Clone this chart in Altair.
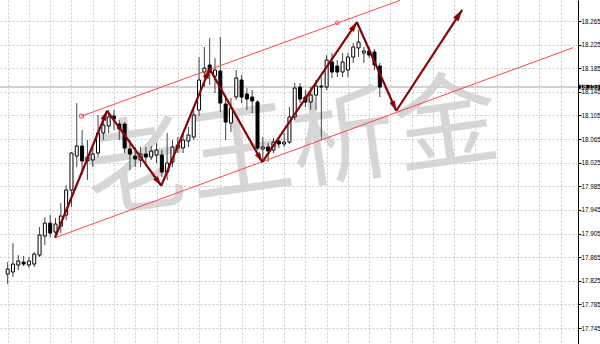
import math
import altair as alt
import pandas as pd

# ---- OHLC candles (H4 bars), oldest first ----
opens = [17.8365, 17.8399, 17.8517, 17.8568, 17.8517, 17.8534, 17.8686, 17.9008, 17.9228, 17.9076,
         17.9178, 17.9364, 17.9788, 18.0363, 18.0533, 18.0279, 18.0296, 18.0414, 18.0753, 18.0872,
         18.1041, 18.0905, 18.0905, 18.0482, 18.0363, 18.0296, 18.0397, 18.0346, 18.0380, 18.0380,
         18.0092, 18.0262, 18.0499, 18.0499, 18.0617, 18.0685, 18.1142, 18.1786, 18.1905, 18.1718,
         18.1803, 18.1244, 18.0922, 18.1363, 18.1651, 18.1414, 18.1363, 18.1278, 18.0482, 18.0516,
         18.0465, 18.0617, 18.0567, 18.0600, 18.1024, 18.1532, 18.1363, 18.1278, 18.1397, 18.1549,
         18.1532, 18.1956, 18.1888, 18.1786, 18.1820, 18.2040, 18.2193, 18.2108, 18.2142, 18.2125,
         18.1888]
highs = [17.8568, 17.8890, 17.8686, 17.8670, 17.8653, 17.8737, 17.9161, 17.9330, 17.9364, 17.9313,
         17.9567, 17.9872, 18.0431, 18.1261, 18.0804, 18.0634, 18.0516, 18.1058, 18.1058, 18.1142,
         18.1142, 18.0973, 18.0939, 18.0634, 18.0516, 18.0516, 18.0516, 18.0533, 18.0584, 18.0465,
         18.0753, 18.0634, 18.0685, 18.0753, 18.0855, 18.1193, 18.2040, 18.2210, 18.2362, 18.2023,
         18.2379, 18.1363, 18.1346, 18.1820, 18.1735, 18.1515, 18.1481, 18.1312, 18.0685, 18.0584,
         18.0668, 18.0685, 18.0753, 18.1193, 18.1600, 18.1600, 18.1481, 18.1532, 18.1651, 18.1701,
         18.2074, 18.2108, 18.1989, 18.2108, 18.2108, 18.2277, 18.2498, 18.2210, 18.2210, 18.2176,
         18.1939]
lows = [17.8195, 17.8314, 17.8432, 17.8500, 17.8466, 17.8483, 17.8653, 17.8856, 17.8991, 17.8991,
        17.9059, 17.9279, 17.9500, 18.0177, 18.0042, 17.9957, 18.0177, 18.0346, 18.0634, 18.0753,
        18.0804, 18.0634, 18.0414, 18.0126, 18.0177, 18.0177, 18.0245, 18.0296, 18.0245, 18.0008,
        17.9957, 18.0177, 18.0414, 18.0414, 18.0516, 18.0634, 18.1041, 18.1532, 18.1566, 18.1431,
        18.1109, 18.0634, 18.0770, 18.1312, 18.1261, 18.1142, 18.1092, 18.0465, 18.0296, 18.0262,
        18.0414, 18.0499, 18.0516, 18.0567, 18.0973, 18.1261, 18.1193, 18.1142, 18.1142, 18.0634,
        18.1481, 18.1685, 18.1701, 18.1701, 18.1701, 18.1939, 18.2040, 18.1939, 18.2023, 18.1820,
        18.1363]
closes = [17.8449, 17.8534, 17.8585, 17.8534, 17.8585, 17.8703, 17.9025, 17.9228, 17.9059, 17.9212,
          17.9347, 17.9788, 18.0414, 18.0533, 18.0279, 18.0346, 18.0397, 18.0753, 18.0888, 18.1024,
          18.0990, 18.0821, 18.0499, 18.0397, 18.0313, 18.0397, 18.0346, 18.0448, 18.0465, 18.0092,
          18.0245, 18.0516, 18.0550, 18.0634, 18.0719, 18.1058, 18.1651, 18.1854, 18.1786, 18.1820,
          18.1261, 18.0939, 18.1176, 18.1685, 18.1363, 18.1329, 18.1295, 18.0499, 18.0516, 18.0448,
          18.0600, 18.0567, 18.0600, 18.1024, 18.1515, 18.1329, 18.1278, 18.1397, 18.1549, 18.1532,
          18.1989, 18.1786, 18.1786, 18.1956, 18.2040, 18.2210, 18.2294, 18.2142, 18.2074, 18.1905,
          18.1532]

# price scale labels on the right
price_ticks = [17.745, 17.785, 17.825, 17.865, 17.905, 17.945, 17.985, 18.025,
               18.065, 18.105, 18.145, 18.185, 18.225, 18.265]
# vertical grid every 4 bars
grid_bars = list(range(0, 108, 4))

# wave count drawn over the chart: (bar index, price)
wave_bar = [8.9, 18.7, 28.9, 38.0, 47.9, 65.7, 73.1, 85.5]
wave_price = [17.898, 18.113, 17.986, 18.184, 18.026, 18.263, 18.113, 18.284]

# rising channel
upper_bar = [13.9, 73.8]
upper_price = [18.104, 18.300]
lower_bar = [8.9, 106.4]
lower_price = [17.898, 18.220]
upper_anchor_bar = [62.0]
upper_anchor_price = [18.262]

watermark = "老王析金"
watermark_bar = 53.5
watermark_price = 18.046

# ---- layout ----
W, H = 578, 344
XDOM = [-0.5, 106.34]
YDOM = [17.718, 18.3006]
sx = W / (XDOM[1] - XDOM[0])
sy = H / (YDOM[1] - YDOM[0])

n = len(opens)
candles = pd.DataFrame({
    "bar": list(range(n)), "open": opens, "high": highs, "low": lows, "close": closes,
})
candles["top"] = candles[["open", "close"]].max(axis=1)
candles["bottom"] = candles[["open", "close"]].min(axis=1)
candles["dir"] = ["up" if c >= o else "down" for o, c in zip(opens, closes)]

xscale = alt.Scale(domain=XDOM, nice=False, zero=False)
yscale = alt.Scale(domain=YDOM, nice=False, zero=False)
xaxis = alt.Axis(values=grid_bars, labels=False, ticks=False, domain=False, title=None,
                 grid=True, gridColor="#c8c8c8", gridDash=[2, 2], gridWidth=1)
yaxis = alt.Axis(orient="right", values=price_ticks, format=".3f", title=None,
                 grid=True, gridColor="#c8c8c8", gridDash=[2, 2], gridWidth=1,
                 domain=True, domainColor="#000000", domainWidth=1,
                 ticks=True, tickColor="#000000", tickSize=3,
                 labelFont="Liberation Sans", labelFontSize=6.3, labelColor="#000000",
                 labelPadding=0)


def X(field):
    return alt.X(field, type="quantitative", scale=xscale, axis=xaxis)


def Y(field):
    return alt.Y(field, type="quantitative", scale=yscale, axis=yaxis)


base = alt.Chart(candles)

wicks = base.mark_rule(color="#444444", strokeWidth=1).encode(
    x=X("bar"), y=Y("low"), y2="high")

bodies = base.mark_bar(size=3, stroke="#000000", strokeWidth=1).encode(
    x=X("bar"), y=Y("bottom"), y2="top",
    fill=alt.Fill("dir:N", scale=alt.Scale(domain=["up", "down"], range=["#ffffff", "#000000"]),
                  legend=None))

# current price line and its marker on the price scale
last = pd.DataFrame({"price": [closes[-1]], "label": [f"{closes[-1]:.3f}"]})
price_line = alt.Chart(last).mark_rule(color="#d2d2d2", strokeWidth=2).encode(y=Y("price"))
price_box = alt.Chart(last).mark_point(
    shape="M-2.45,-0.5H2.45V0.5H-2.45Z", size=81, filled=True, color="#000000", opacity=1
).encode(x=alt.value(589), y=Y("price"))
price_text = alt.Chart(last).mark_text(
    font="Liberation Sans", fontSize=6.3, color="#ffffff", align="center", baseline="middle"
).encode(x=alt.value(589), y=Y("price"), text="label:N")

# watermark
wm = pd.DataFrame({"bar": [watermark_bar], "price": [watermark_price], "t": [watermark]})
wm_text = alt.Chart(wm).mark_text(
    font="Noto Sans CJK SC", fontSize=104, color="#d0d0d0", opacity=0.85,
    angle=352, align="center", baseline="middle"
).encode(x=X("bar"), y=Y("price"), text="t:N")

# channel lines
chan = pd.DataFrame({
    "x": [upper_bar[0], lower_bar[0]], "y": [upper_price[0], lower_price[0]],
    "x2": [upper_bar[1], lower_bar[1]], "y2": [upper_price[1], lower_price[1]],
})
chan_lines = alt.Chart(chan).mark_rule(color="#ff4545", strokeWidth=1, clip=True).encode(
    x=X("x"), y=Y("y"), x2="x2", y2="y2")
start_mark = alt.Chart(pd.DataFrame({"x": [upper_bar[0]], "y": [upper_price[0]]})).mark_point(
    shape="square", size=14, filled=False, color="#ff4545", strokeWidth=1, opacity=1
).encode(x=X("x"), y=Y("y"))
anchor_mark = alt.Chart(pd.DataFrame({"x": upper_anchor_bar, "y": upper_anchor_price})).mark_point(
    shape="circle", size=14, filled=False, color="#ff4545", strokeWidth=1, opacity=1
).encode(x=X("x"), y=Y("y"))

# wave arrows
seg = pd.DataFrame({
    "x": wave_bar[:-1], "y": wave_price[:-1], "x2": wave_bar[1:], "y2": wave_price[1:],
})
seg["k"] = range(len(seg))
seg["angle"] = [
    math.degrees(math.atan2((b - a) * sx, (q - p) * sy)) % 360
    for a, b, p, q in zip(seg["x"], seg["x2"], seg["y"], seg["y2"])
]
last_k = len(seg) - 1
arrow_color = "#850606"
wave_lines = alt.Chart(seg).mark_rule(color=arrow_color, strokeWidth=2.2).encode(
    x=X("x"), y=Y("y"), x2="x2", y2="y2")
heads_small = alt.Chart(seg).transform_filter(alt.datum.k < last_k).mark_point(
    shape="M0,0L0.65,2.2L-0.65,2.2Z", size=81, filled=True, color=arrow_color, opacity=1
).encode(x=X("x2"), y=Y("y2"), angle=alt.Angle("angle:Q", scale=None))
heads_big = alt.Chart(seg).transform_filter(alt.datum.k == last_k).mark_point(
    shape="M0,0L0.6,2.1L-0.6,2.1Z", size=121, filled=True, color=arrow_color, opacity=1
).encode(x=X("x2"), y=Y("y2"), angle=alt.Angle("angle:Q", scale=None))

chart = alt.layer(
    price_line, wm_text, wicks, bodies, chan_lines, start_mark, anchor_mark,
    wave_lines, heads_small, heads_big, price_box, price_text
).properties(
    width=W, height=H,
    autosize=alt.AutoSizeParams(type="none"),
    padding={"left": 0, "top": 0, "right": 22, "bottom": 0},
    background="#ffffff",
).configure_view(stroke=None)

chart.save("out.html", embed_options={"renderer": "svg", "actions": False})
